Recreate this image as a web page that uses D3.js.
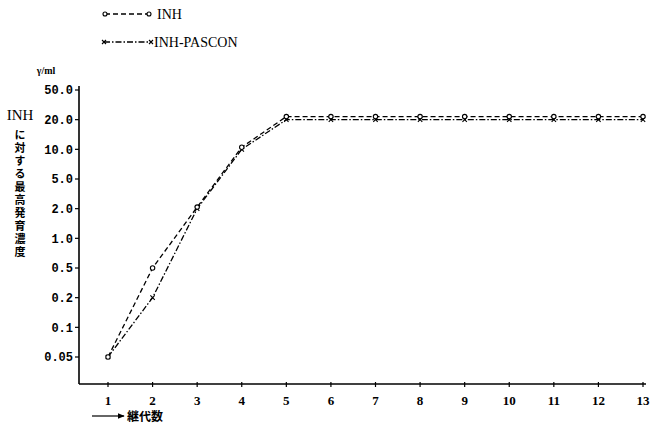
<!DOCTYPE html>
<html>
<head>
<meta charset="utf-8">
<script src="https://cdn.jsdelivr.net/npm/d3@7"></script>
<style>
  body { margin: 0; background: #fff; }
  svg { display: block; }
</style>
</head>
<body>
<svg width="651" height="427"></svg>
<script>
// data
var generations = [1, 2, 3, 4, 5, 6, 7, 8, 9, 10, 11, 12, 13];
var inh = [0.05, 0.5, 2.1, 10.5, 22, 22, 22, 22, 22, 22, 22, 22, 22];
var inhPascon = [0.05, 0.2, 2, 10, 20, 20, 20, 20, 20, 20, 20, 20, 20];
var yTicks = [0.05, 0.1, 0.2, 0.5, 1, 2, 5, 10, 20, 50];
var yTickLabels = ["0.05", "0.1", "0.2", "0.5", "1.0", "2.0", "5.0", "10.0", "20.0", "50.0"];

var svg = d3.select("svg");

var x = d3.scaleLinear()
  .domain([1, 13])
  .range([108, 643]);

// tick marks are evenly spaced on the page, so map log(value) piecewise onto them
var yTop = 90, yBot = 357;
var y = d3.scaleLinear()
  .domain(yTicks.map(Math.log))
  .range(yTicks.map(function (d, i) { return yBot - i * (yBot - yTop) / (yTicks.length - 1); }));
function yv(v) { return y(Math.log(v)); }

var axisX0 = 79, axisY0 = 384;

// axes lines
svg.append("line")
  .attr("x1", axisX0).attr("x2", axisX0)
  .attr("y1", 86).attr("y2", axisY0)
  .attr("stroke", "#000").attr("stroke-width", 1.6);
svg.append("line")
  .attr("x1", axisX0).attr("x2", 646)
  .attr("y1", axisY0).attr("y2", axisY0)
  .attr("stroke", "#000").attr("stroke-width", 1.6);

// y ticks
var yt = svg.append("g");
yt.selectAll("line")
  .data(yTicks)
  .enter().append("line")
  .attr("x1", axisX0 - 4).attr("x2", axisX0)
  .attr("y1", function (d) { return yv(d); })
  .attr("y2", function (d) { return yv(d); })
  .attr("stroke", "#000").attr("stroke-width", 1.2);
yt.selectAll("text")
  .data(yTicks)
  .enter().append("text")
  .attr("x", axisX0 - 6)
  .attr("y", function (d) { return yv(d); })
  .attr("dy", "0.35em")
  .attr("text-anchor", "end")
  .style("font-family", "'Liberation Mono', monospace")
  .style("font-weight", "bold")
  .style("font-size", "12px")
  .text(function (d, i) { return yTickLabels[i]; });

// x ticks
var xt = svg.append("g");
xt.selectAll("line")
  .data(generations)
  .enter().append("line")
  .attr("x1", function (d) { return x(d); })
  .attr("x2", function (d) { return x(d); })
  .attr("y1", axisY0 - 2).attr("y2", axisY0 + 3)
  .attr("stroke", "#000").attr("stroke-width", 1.2);
xt.selectAll("text")
  .data(generations)
  .enter().append("text")
  .attr("x", function (d) { return x(d); })
  .attr("y", 405)
  .attr("text-anchor", "middle")
  .style("font-family", "'Liberation Serif', serif")
  .style("font-weight", "bold")
  .style("font-size", "13px")
  .text(function (d) { return d; });

// unit
svg.append("text")
  .attr("x", 46).attr("y", 74)
  .attr("text-anchor", "middle")
  .style("font-family", "'Liberation Serif', serif")
  .style("font-weight", "bold")
  .style("font-size", "10px")
  .text("γ/ml");

// y label: INH then vertical Japanese
svg.append("text")
  .attr("x", 20).attr("y", 120)
  .attr("text-anchor", "middle")
  .style("font-family", "'Liberation Serif', serif")
  .style("font-size", "15px")
  .text("INH");
svg.append("text")
  .attr("x", 20).attr("y", 129)
  .style("writing-mode", "vertical-rl")
  .style("font-family", "'Noto Sans CJK JP', sans-serif")
  .style("font-weight", "bold")
  .style("font-size", "11px")
  .style("letter-spacing", "2px")
  .text("に対する最高発育濃度");

// x label with arrow
svg.append("defs").append("marker")
  .attr("id", "arrow")
  .attr("viewBox", "0 0 10 10")
  .attr("refX", 9).attr("refY", 5)
  .attr("markerWidth", 6).attr("markerHeight", 6)
  .attr("orient", "auto")
  .append("path").attr("d", "M0,1 L10,5 L0,9 z").attr("fill", "#000");
svg.append("line")
  .attr("x1", 92).attr("x2", 124)
  .attr("y1", 416).attr("y2", 416)
  .attr("stroke", "#000").attr("stroke-width", 1.2)
  .attr("marker-end", "url(#arrow)");
svg.append("text")
  .attr("x", 127).attr("y", 421)
  .style("font-family", "'Noto Sans CJK JP', sans-serif")
  .style("font-weight", "bold")
  .style("font-size", "12px")
  .text("継代数");

// series
var line = d3.line()
  .x(function (d, i) { return x(generations[i]); })
  .y(function (d) { return yv(d); });

svg.append("path")
  .datum(inhPascon)
  .attr("d", line)
  .attr("fill", "none")
  .attr("stroke", "#000").attr("stroke-width", 1.3)
  .attr("stroke-dasharray", "6,2,1.5,2");
svg.append("path")
  .datum(inh)
  .attr("d", line)
  .attr("fill", "none")
  .attr("stroke", "#000").attr("stroke-width", 1.3)
  .attr("stroke-dasharray", "5,3");

function xMark(g, cx, cy, s) {
  g.append("path")
    .attr("d", "M" + (cx - s) + "," + (cy - s) + "L" + (cx + s) + "," + (cy + s) +
      "M" + (cx - s) + "," + (cy + s) + "L" + (cx + s) + "," + (cy - s))
    .attr("stroke", "#000").attr("stroke-width", 1.1);
}

var gx = svg.append("g");
inhPascon.forEach(function (v, i) { xMark(gx, x(generations[i]), yv(v), 2.2); });

svg.append("g").selectAll("circle")
  .data(inh)
  .enter().append("circle")
  .attr("cx", function (d, i) { return x(generations[i]); })
  .attr("cy", function (d) { return yv(d); })
  .attr("r", 2.2)
  .attr("fill", "#fff")
  .attr("stroke", "#000").attr("stroke-width", 1.1);

// legend
var lg = svg.append("g");
lg.append("line")
  .attr("x1", 105).attr("x2", 149).attr("y1", 14).attr("y2", 14)
  .attr("stroke", "#000").attr("stroke-width", 1.3).attr("stroke-dasharray", "5,3");
lg.selectAll("circle")
  .data([105, 149])
  .enter().append("circle")
  .attr("cx", function (d) { return d; }).attr("cy", 14).attr("r", 2)
  .attr("fill", "#fff").attr("stroke", "#000").attr("stroke-width", 1.1);
lg.append("text")
  .attr("x", 157).attr("y", 19)
  .style("font-family", "'Liberation Serif', serif")
  .style("font-size", "14px")
  .text("INH");
lg.append("line")
  .attr("x1", 104).attr("x2", 151).attr("y1", 42).attr("y2", 42)
  .attr("stroke", "#000").attr("stroke-width", 1.3).attr("stroke-dasharray", "6,2,1.5,2");
xMark(lg, 104, 42, 2);
xMark(lg, 151, 42, 2);
lg.append("text")
  .attr("x", 154).attr("y", 47)
  .style("font-family", "'Liberation Serif', serif")
  .style("font-size", "14px")
  .text("INH-PASCON");
</script>
</body>
</html>
